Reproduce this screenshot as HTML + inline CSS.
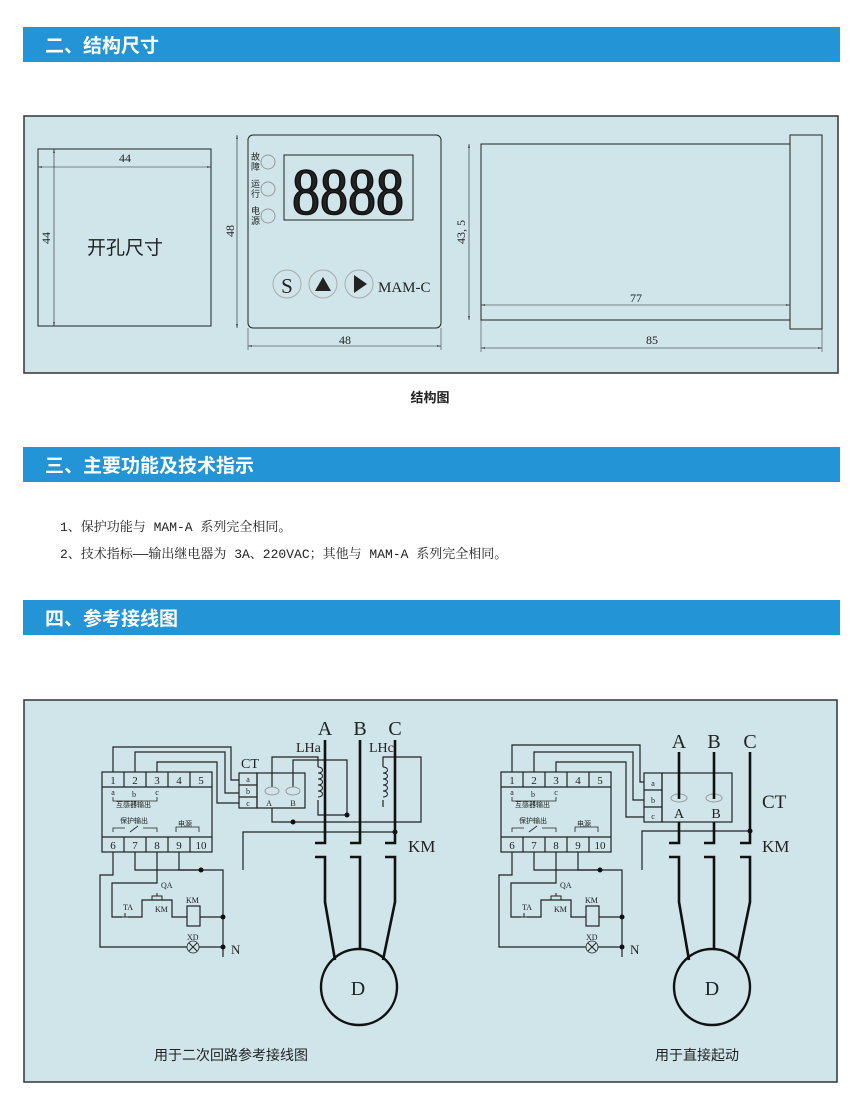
<!DOCTYPE html>
<html><head><meta charset="utf-8"><style>
html,body{margin:0;padding:0;background:#fff;width:860px;height:1111px;overflow:hidden}
svg{display:block}
.hd{font-family:"Liberation Sans","Noto Sans CJK SC",sans-serif;font-weight:bold;font-size:19px;fill:#fff}
.tx{font-family:"Liberation Mono","Noto Serif CJK SC",monospace;font-size:13px;fill:#222}
.sf{font-family:"Liberation Serif","Noto Serif CJK SC",serif;fill:#222}
.cj{font-family:"Liberation Sans","Noto Sans CJK SC",sans-serif;fill:#222}
</style></head><body>
<svg width="860" height="1111" viewBox="0 0 860 1111" xmlns="http://www.w3.org/2000/svg">
<defs>
<marker id="ar" viewBox="0 0 10 6" refX="10" refY="3" markerWidth="10" markerHeight="4" orient="auto-start-reverse"><path d="M0,1 L10,3 L0,5 z" fill="#222"/></marker>
<g id="ctl" fill="none" stroke="#222" stroke-width="1.2">
<rect x="102" y="772" width="110" height="80" fill="none"/>
<line x1="102" y1="787" x2="212" y2="787"/><line x1="102" y1="837" x2="212" y2="837"/>
<line x1="124" y1="772" x2="124" y2="787"/><line x1="146" y1="772" x2="146" y2="787"/><line x1="168" y1="772" x2="168" y2="787"/><line x1="190" y1="772" x2="190" y2="787"/>
<line x1="124" y1="837" x2="124" y2="852"/><line x1="146" y1="837" x2="146" y2="852"/><line x1="168" y1="837" x2="168" y2="852"/><line x1="190" y1="837" x2="190" y2="852"/>
<path d="M113,797 v4 h44 v-4 M135,801 v2" stroke-width="0.8"/>
<path d="M113,832 v-4 h12 M130,832 l8,-6 M143,828 h14 v4 M176,832 v-5 h23 v5" stroke-width="0.8"/>
<path d="M113,852 v23 h-13 v72 h87 M199,947 h24"/>
<circle cx="193" cy="947" r="6" fill="none" stroke-width="0.8"/>
<path d="M189,943 l8,8 M197,943 l-8,8" stroke-width="1"/>
<path d="M179,852 v18 h44 v87"/>
<path d="M135,852 v18 h66"/>
<path d="M157,852 v31 h-45 v34 h10 M128,917 h14 v-17 h30 v17 h15 M200,917 h23"/>
<path d="M122,917 h6 M125,913 v4" stroke-width="1"/>
<path d="M152,900 v-4 h10 v4 M157,896 v-3" stroke-width="1"/>
<rect x="187" y="906" width="13" height="20" fill="none"/>
</g>
</defs>

<rect x="23" y="27" width="817" height="35" fill="#2394d5"/>
<text x="45" y="52" class="hd">二、结构尺寸</text>

<rect x="24" y="116" width="814" height="257" fill="#cfe5ea" stroke="#333" stroke-width="1.5"/>
<g fill="none" stroke="#222" stroke-width="1">
<rect x="38" y="149" width="173" height="177"/>
<line x1="38" y1="167" x2="211" y2="167" stroke-width="0.6" marker-start="url(#ar)" marker-end="url(#ar)"/>
<line x1="54" y1="149" x2="54" y2="326" stroke-width="0.6" marker-start="url(#ar)" marker-end="url(#ar)"/>
<rect x="248" y="135" width="193" height="193" rx="5"/>
<line x1="237" y1="135" x2="237" y2="328" stroke-width="0.6" marker-start="url(#ar)" marker-end="url(#ar)"/>
<line x1="248" y1="346" x2="441" y2="346" stroke-width="0.6" marker-start="url(#ar)" marker-end="url(#ar)"/>
<line x1="248" y1="328" x2="248" y2="350" stroke-width="0.5"/><line x1="441" y1="328" x2="441" y2="350" stroke-width="0.5"/>
<rect x="284" y="155" width="129" height="65"/>
<circle cx="268" cy="162" r="7" stroke="#999"/><circle cx="268" cy="189" r="7" stroke="#999"/><circle cx="268" cy="216" r="7" stroke="#999"/>
<circle cx="287" cy="284" r="14" stroke="#aaa"/><circle cx="323" cy="284" r="14" stroke="#aaa"/><circle cx="359" cy="284" r="14" stroke="#aaa"/>
<rect x="481" y="144" width="309" height="176"/>
<rect x="790" y="135" width="32" height="194"/>
<line x1="481" y1="305" x2="790" y2="305" stroke-width="0.6" marker-start="url(#ar)" marker-end="url(#ar)"/>
<line x1="481" y1="348" x2="822" y2="348" stroke-width="0.6" marker-start="url(#ar)" marker-end="url(#ar)"/>
<line x1="481" y1="320" x2="481" y2="352" stroke-width="0.5"/><line x1="822" y1="329" x2="822" y2="352" stroke-width="0.5"/>
<line x1="469" y1="144" x2="469" y2="320" stroke-width="0.6" marker-start="url(#ar)" marker-end="url(#ar)"/>
</g>
<text x="125" y="162" class="sf" font-size="12" text-anchor="middle">44</text>
<text transform="translate(50,238) rotate(-90)" class="sf" font-size="12" text-anchor="middle">44</text>
<text x="125" y="254" class="cj" font-size="19" text-anchor="middle">开孔尺寸</text>
<text transform="translate(234,231) rotate(-90)" class="sf" font-size="12" text-anchor="middle">48</text>
<text x="345" y="344" class="sf" font-size="12" text-anchor="middle">48</text>
<text x="348" y="214" class="sf" font-size="66" text-anchor="middle" textLength="112" lengthAdjust="spacingAndGlyphs" stroke="#111" stroke-width="1.6">8888</text>
<g class="cj" font-size="9"><text x="251" y="160">故</text><text x="251" y="170">障</text><text x="251" y="187">运</text><text x="251" y="197">行</text><text x="251" y="214">电</text><text x="251" y="224">源</text></g>
<text x="287" y="293" class="sf" font-size="21" text-anchor="middle">S</text>
<path d="M315,291 L323,277 L331,291 z" fill="#222"/>
<path d="M354,275 L367,284 L354,293 z" fill="#222"/>
<text x="378" y="292" class="sf" font-size="15">MAM-C</text>
<text transform="translate(465,232) rotate(-90)" class="sf" font-size="12" text-anchor="middle">43, 5</text>
<text x="636" y="302" class="sf" font-size="12" text-anchor="middle">77</text>
<text x="652" y="344" class="sf" font-size="12" text-anchor="middle">85</text>
<text x="430" y="402" class="cj" font-size="13" font-weight="bold" text-anchor="middle">结构图</text>

<rect x="23" y="447" width="817" height="35" fill="#2394d5"/>
<text x="45" y="472" class="hd">三、主要功能及技术指示</text>
<text x="60" y="531" class="tx">1、保护功能与 MAM-A 系列完全相同。</text>
<text x="60" y="558" class="tx">2、技术指标——输出继电器为 3A、220VAC；其他与 MAM-A 系列完全相同。</text>

<rect x="23" y="600" width="817" height="35" fill="#2394d5"/>
<text x="45" y="625" class="hd">四、参考接线图</text>

<rect x="24" y="700" width="813" height="382" fill="#cfe5ea" stroke="#333" stroke-width="1.5"/>

<use href="#ctl"/>
<g fill="none" stroke="#222" stroke-width="1.2">
<path d="M113,772 v-25 h118 v33 h8 M135,772 v-20 h90 v41 h14 M157,772 v-10 h60 v41 h22"/>
<path d="M243,870 v-38 h152"/>
<rect x="239" y="773" width="18" height="35"/><line x1="239" y1="785" x2="257" y2="785"/><line x1="239" y1="797" x2="257" y2="797"/>
<rect x="257" y="773" width="48" height="35"/>
<path d="M272,787 v-30 h46 v10 M318,800 v15 h29 M293,787 v-27 h54 v55 M272,808 v14 h149 v-65 h-38 v10 M383,800 v7"/>
<path d="M318,767 c6,0 6,6 0,6 c6,0 6,6 0,6 c6,0 6,6 0,6 c6,0 6,6 0,6 c6,0 6,6 0,6" stroke-width="1"/>
<path d="M383,767 c6,0 6,6 0,6 c6,0 6,6 0,6 c6,0 6,6 0,6 c6,0 6,6 0,6 c6,0 6,6 0,6" stroke-width="1"/>
</g>
<ellipse cx="272" cy="791" rx="7" ry="4" fill="none" stroke="#999"/><ellipse cx="293" cy="791" rx="7" ry="4" fill="none" stroke="#999"/>
<g fill="none" stroke="#111" stroke-width="2.6">
<path d="M325,740 v103 h-10 M360,740 v103 h-10 M395,740 v103 h-10"/>
<path d="M315,857 h10 v45 l10,58 M350,857 h10 v92 M385,857 h10 v45 l-12,58"/>
<circle cx="359" cy="987" r="38" stroke-width="2.4"/>
</g>
<g fill="#111"><circle cx="347" cy="815" r="2.5"/><circle cx="293" cy="822" r="2.5"/><circle cx="395" cy="832" r="2.5"/><circle cx="201" cy="870" r="2.5"/><circle cx="223" cy="917" r="2.5"/><circle cx="223" cy="947" r="2.5"/></g>
<g class="sf">
<text x="325" y="735" font-size="20" text-anchor="middle">A</text><text x="360" y="735" font-size="20" text-anchor="middle">B</text><text x="395" y="735" font-size="20" text-anchor="middle">C</text>
<text x="296" y="752" font-size="14">LHa</text><text x="369" y="752" font-size="14">LHc</text>
<text x="241" y="768" font-size="14">CT</text>
<text x="408" y="852" font-size="17">KM</text>
<text x="358" y="995" font-size="20" text-anchor="middle">D</text>
<text x="231" y="954" font-size="13">N</text>
</g>

<use href="#ctl" transform="translate(399,0)"/>
<g fill="none" stroke="#222" stroke-width="1.2">
<path d="M512,772 v-27 h128 v37 h4 M534,772 v-20 h99 v48 h11 M556,772 v-10 h70 v55 h18"/>
<path d="M642,870 v-39 h108"/>
<rect x="644" y="773" width="18" height="49"/><line x1="644" y1="790" x2="662" y2="790"/><line x1="644" y1="807" x2="662" y2="807"/>
<rect x="662" y="773" width="70" height="49"/>
</g>
<ellipse cx="679" cy="798" rx="8" ry="4" fill="none" stroke="#999"/><ellipse cx="714" cy="798" rx="8" ry="4" fill="none" stroke="#999"/>
<g fill="none" stroke="#111" stroke-width="2.6">
<path d="M679,752 v47 M714,752 v47 M750,752 v91 h-10"/>
<path d="M679,822 v21 h-10 M714,822 v21 h-10"/>
<path d="M669,857 h10 v45 l10,58 M704,857 h10 v92 M740,857 h10 v45 l-12,58"/>
<circle cx="712" cy="987" r="38" stroke-width="2.4"/>
</g>
<g fill="#111"><circle cx="750" cy="831" r="2.5"/><circle cx="600" cy="870" r="2.5"/><circle cx="622" cy="917" r="2.5"/><circle cx="622" cy="947" r="2.5"/></g>
<g class="sf">
<text x="679" y="748" font-size="20" text-anchor="middle">A</text><text x="714" y="748" font-size="20" text-anchor="middle">B</text><text x="750" y="748" font-size="20" text-anchor="middle">C</text>
<text x="679" y="818" font-size="14" text-anchor="middle">A</text><text x="716" y="818" font-size="14" text-anchor="middle">B</text>
<text x="762" y="808" font-size="19">CT</text>
<text x="762" y="852" font-size="17">KM</text>
<text x="712" y="995" font-size="20" text-anchor="middle">D</text>
<text x="630" y="954" font-size="13">N</text>
</g>

<g class="sf" font-size="11">
<text x="113" y="784" text-anchor="middle">1</text><text x="135" y="784" text-anchor="middle">2</text><text x="157" y="784" text-anchor="middle">3</text><text x="179" y="784" text-anchor="middle">4</text><text x="201" y="784" text-anchor="middle">5</text>
<text x="113" y="849" text-anchor="middle">6</text><text x="135" y="849" text-anchor="middle">7</text><text x="157" y="849" text-anchor="middle">8</text><text x="179" y="849" text-anchor="middle">9</text><text x="201" y="849" text-anchor="middle">10</text>
<text x="512" y="784" text-anchor="middle">1</text><text x="534" y="784" text-anchor="middle">2</text><text x="556" y="784" text-anchor="middle">3</text><text x="578" y="784" text-anchor="middle">4</text><text x="600" y="784" text-anchor="middle">5</text>
<text x="512" y="849" text-anchor="middle">6</text><text x="534" y="849" text-anchor="middle">7</text><text x="556" y="849" text-anchor="middle">8</text><text x="578" y="849" text-anchor="middle">9</text><text x="600" y="849" text-anchor="middle">10</text>
</g>
<g class="sf" font-size="8">
<text x="113" y="795" text-anchor="middle">a</text><text x="134" y="797" text-anchor="middle">b</text><text x="157" y="795" text-anchor="middle">c</text>
<text x="512" y="795" text-anchor="middle">a</text><text x="533" y="797" text-anchor="middle">b</text><text x="556" y="795" text-anchor="middle">c</text>
<text x="248" y="782" text-anchor="middle">a</text><text x="248" y="794" text-anchor="middle">b</text><text x="248" y="806" text-anchor="middle">c</text>
<text x="269" y="806" text-anchor="middle">A</text><text x="293" y="806" text-anchor="middle">B</text>
<text x="653" y="786" text-anchor="middle">a</text><text x="653" y="803" text-anchor="middle">b</text><text x="653" y="819" text-anchor="middle">c</text>
<text x="161" y="888">QA</text><text x="123" y="910">TA</text><text x="155" y="912">KM</text><text x="186" y="903">KM</text><text x="187" y="940">XD</text>
<text x="560" y="888">QA</text><text x="522" y="910">TA</text><text x="554" y="912">KM</text><text x="585" y="903">KM</text><text x="586" y="940">XD</text>
</g>
<g class="cj" font-size="7">
<text x="116" y="807">互感器输出</text><text x="120" y="823">保护输出</text><text x="178" y="826">电源</text>
<text x="515" y="807">互感器输出</text><text x="519" y="823">保护输出</text><text x="577" y="826">电源</text>
</g>
<text x="231" y="1060" class="cj" font-size="14" text-anchor="middle">用于二次回路参考接线图</text>
<text x="697" y="1060" class="cj" font-size="14" text-anchor="middle">用于直接起动</text>
</svg>
</body></html>
